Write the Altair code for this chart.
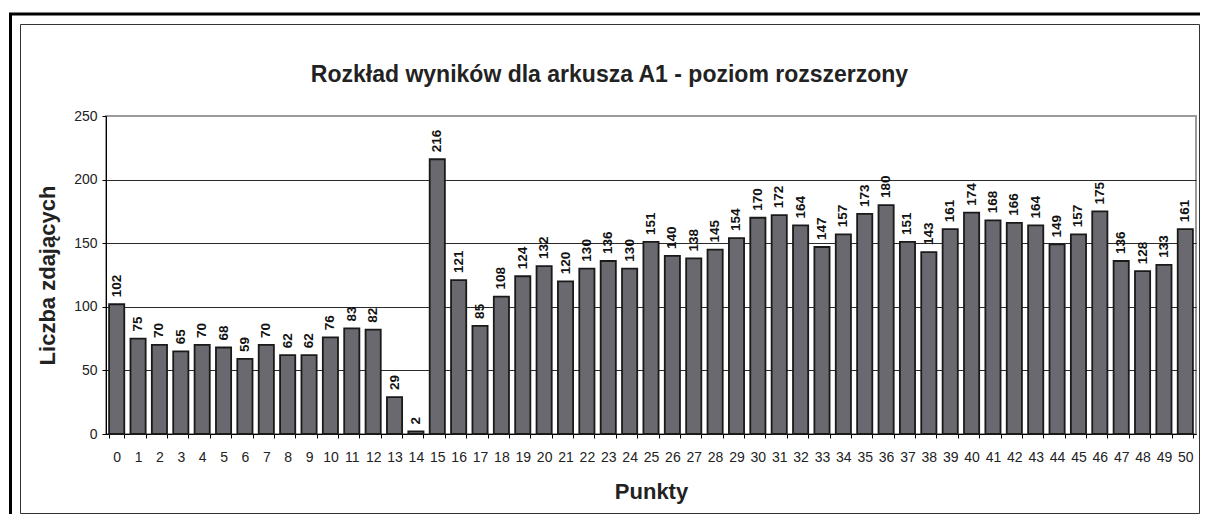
import altair as alt
import pandas as pd

points = list(range(51))
counts = [102, 75, 70, 65, 70, 68, 59, 70, 62, 62, 76, 83, 82, 29, 2, 216, 121, 85, 108,
          124, 132, 120, 130, 136, 130, 151, 140, 138, 145, 154, 170, 172, 164, 147, 157,
          173, 180, 151, 143, 161, 174, 168, 166, 164, 149, 157, 175, 136, 128, 133, 161]
y_ticks = [0, 50, 100, 150, 200, 250]
title_text = "Rozkład wyników dla arkusza A1 - poziom rozszerzony"
x_title = "Punkty"
y_title = "Liczba zdających"

FONT = "Liberation Sans"

labels = [str(p) for p in points]
df = pd.DataFrame({"punkty": labels, "liczba": counts})
title_df = pd.DataFrame({"t": [title_text]})
frame_df = pd.DataFrame({"k": [0]})

x_enc = alt.X(
    "punkty:N", sort=labels,
    scale=alt.Scale(paddingInner=0.29, paddingOuter=0.145),
    axis=alt.Axis(
        title=x_title, labelAngle=0, tickBand="extent", tickSize=4, labelPadding=12,
        labelFontSize=14, labelFont=FONT, labelColor="#222",
        titleFontSize=22, titleFont=FONT, titleFontWeight="bold", titleColor="#222",
        titleX=545, titleY=64, titleBaseline="alphabetic",
        grid=False, domainColor="black", tickColor="black",
    ),
)
y_enc = alt.Y(
    "liczba:Q",
    scale=alt.Scale(domain=[0, 250]),
    axis=alt.Axis(
        values=y_ticks, title=y_title, tickSize=4, labelPadding=5,
        labelFontSize=14, labelFont=FONT, labelColor="#222",
        titleFontSize=22, titleFont=FONT, titleFontWeight="bold", titleColor="#222",
        titleAngle=270, titleX=-52, titleY=159, titleAlign="center", titleBaseline="alphabetic",
        grid=True,
        gridColor={"condition": {"test": "datum.value === 250", "value": "#9a9a9a"}, "value": "#2a2a2a"},
        domainColor="black", tickColor="black",
    ),
)

base = alt.Chart(df)
bars = base.mark_bar(color="#69696f", stroke="#1a1a1a", strokeWidth=1.8).encode(x=x_enc, y=y_enc)
values = base.mark_text(
    angle=270, align="left", baseline="middle", dx=7,
    fontSize=13.5, fontWeight="bold", font=FONT, color="#111",
).encode(x=x_enc, y=y_enc, text="liczba:Q")

title_mark = alt.Chart(title_df).mark_text(
    fontSize=23, fontWeight="bold", font=FONT, color="#222",
    align="center", baseline="alphabetic",
).encode(x=alt.value(503.5), y=alt.value(-34), text="t:N")

outer = alt.Chart(frame_df).mark_rect(filled=False, stroke="black", strokeWidth=3).encode(
    x=alt.value(-95.5), y=alt.value(-102), x2=alt.value(1300), y2=alt.value(600)
)
inner = alt.Chart(frame_df).mark_rect(filled=False, stroke="#333", strokeWidth=1).encode(
    x=alt.value(-85.5), y=alt.value(-91.5), x2=alt.value(1093.5), y2=alt.value(397.5)
)

chart = alt.layer(outer, inner, bars, values, title_mark).properties(
    width=1090, height=318,
    autosize=alt.AutoSizeParams(type="none"),
    padding={"left": 98, "top": 108, "right": 4, "bottom": 80},
    background="white",
).configure_view(stroke="#9a9a9a", strokeWidth=2)

chart.save("out.html", embed_options={"renderer": "svg", "actions": False})
